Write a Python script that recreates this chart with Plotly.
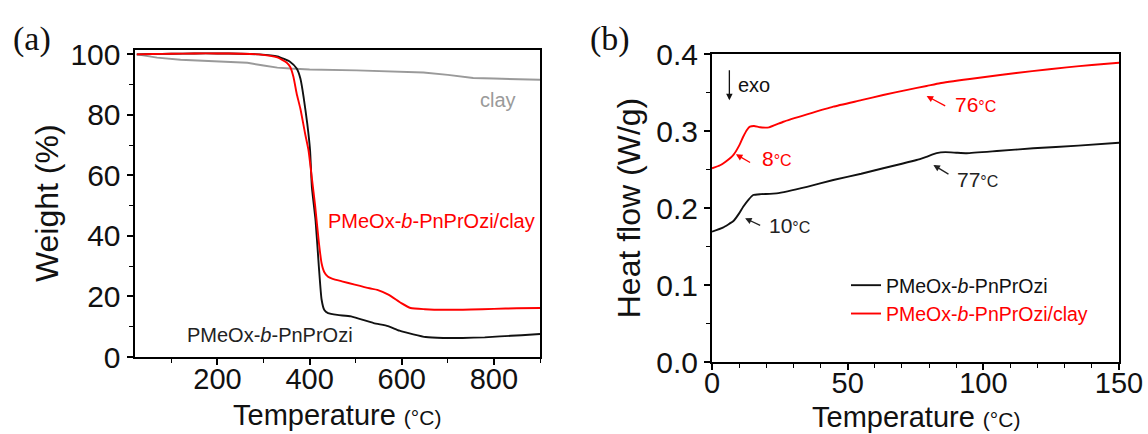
import plotly.graph_objects as go

# ---------------- data: (a) TGA ----------------
tga_temp_neat = [25, 60, 100, 150, 200, 250, 290, 330, 358, 372, 380, 387, 395, 401, 405, 413, 420, 426, 432, 440, 460, 490, 539, 570, 595, 625, 652, 690, 732, 780, 813, 860, 900]
tga_w_neat = [100, 100.1, 100.2, 100.3, 100.3, 100.2, 100.0, 99.3, 97.5, 95.3, 92, 85.9, 77, 68.3, 56, 45, 30, 19, 15.5, 14.5, 13.9, 13.4, 11.2, 10.2, 8.7, 7.5, 6.6, 6.3, 6.3, 6.5, 6.8, 7.2, 7.6]

tga_temp_clay = [25, 60, 100, 150, 200, 250, 290, 330, 350, 358, 365, 372, 380, 390, 397.6, 405, 412, 420, 426, 432, 440, 450, 470, 498, 530, 547, 571, 599, 619, 650, 692, 750, 800, 850, 900]
tga_w_clay = [100, 100.1, 100.2, 100.3, 100.3, 100.2, 100.0, 99.0, 97.3, 95.8, 92.5, 87, 82, 74, 68.3, 59, 50, 38, 31, 28, 26.5, 25.8, 25, 23.9, 22.7, 22.2, 20.6, 17.8, 16.2, 15.8, 15.6, 15.7, 15.9, 16.1, 16.2]

tga_temp_pure = [25, 69, 120, 213, 265, 300, 330, 358, 400, 502, 600, 647, 700, 740, 755, 800, 900]
tga_w_pure = [100, 98.9, 98.2, 97.7, 97.2, 96.3, 95.6, 95.3, 95.0, 94.7, 94.3, 94.0, 93.2, 92.5, 92.2, 92.0, 91.6]

# ---------------- data: (b) DSC ----------------
dsc_temp_neat = [0, 4, 7.9, 10, 11.5, 13.5, 15.2, 18, 23.8, 35, 44.7, 55, 63.1, 70, 75.4, 79, 82.8, 86, 90, 93.9, 105, 118.4, 135, 150]
dsc_hf_neat = [0.1692, 0.1745, 0.1831, 0.193, 0.2017, 0.211, 0.2169, 0.2180, 0.219, 0.2275, 0.2364, 0.2445, 0.2516, 0.2575, 0.2623, 0.2665, 0.2712, 0.2725, 0.2718, 0.2712, 0.2740, 0.2775, 0.281, 0.2848]

dsc_temp_clay = [0, 3, 5, 7.9, 10, 11.5, 13, 14, 15.5, 17.7, 21, 26.3, 35, 44.7, 55, 63.1, 72, 79.1, 84, 95, 106.2, 118, 130.7, 140, 150]
dsc_hf_clay = [0.2516, 0.2555, 0.260, 0.269, 0.281, 0.2926, 0.302, 0.3056, 0.3065, 0.3048, 0.3047, 0.312, 0.3215, 0.3316, 0.340, 0.3468, 0.3535, 0.3584, 0.362, 0.3675, 0.3727, 0.3778, 0.3827, 0.3858, 0.3887]

# glass-transition labels
tg_labels = ["8", "76", "10", "77"]
tg_colors = ["#ff0000", "#ff0000", "#222222", "#222222"]
tg_head = [(8.8, 0.2697), (79.1, 0.3455), (12.2, 0.1866), (81.6, 0.2558)]
tg_tail = [(14.6, 0.258), (86.5, 0.3316), (18.3, 0.1766), (87.7, 0.2429)]
tg_text = [(17.7, 0.2645), (88.9, 0.3338), (20.2, 0.1779), (89.6, 0.2364)]

NAME_NEAT = "PMeOx-<i>b</i>-PnPrOzi"
NAME_CLAY = "PMeOx-<i>b</i>-PnPrOzi/clay"

FONT = "Liberation Sans, Arial, sans-serif"
RED = "#ff0000"
BLACK = "#111111"
GREY = "#9a9a9a"
W = 1148
H = 434
LW = 1.9

fig = go.Figure()

# (a)
fig.add_trace(go.Scatter(x=tga_temp_pure, y=tga_w_pure, mode="lines", line=dict(color=GREY, width=LW),
                         xaxis="x", yaxis="y", showlegend=False, name="clay"))
fig.add_trace(go.Scatter(x=tga_temp_neat, y=tga_w_neat, mode="lines", line=dict(color=BLACK, width=LW, shape="spline", smoothing=0.5),
                         xaxis="x", yaxis="y", showlegend=False, name="neat"))
fig.add_trace(go.Scatter(x=tga_temp_clay, y=tga_w_clay, mode="lines", line=dict(color=RED, width=LW, shape="spline", smoothing=0.5),
                         xaxis="x", yaxis="y", showlegend=False, name="clay composite"))

# (b)
fig.add_trace(go.Scatter(x=dsc_temp_neat, y=dsc_hf_neat, mode="lines", line=dict(color=BLACK, width=LW, shape="spline", smoothing=0.4),
                         xaxis="x2", yaxis="y2", name=NAME_NEAT, showlegend=True))
fig.add_trace(go.Scatter(x=dsc_temp_clay, y=dsc_hf_clay, mode="lines", line=dict(color=RED, width=LW, shape="spline", smoothing=0.4),
                         xaxis="x2", yaxis="y2",
                         name="<span style='color:#ff0000'>" + NAME_CLAY + "</span>", showlegend=True))


def px_x(p):
    return p / W


def px_y(p):
    return 1 - p / H


axis_common = dict(
    automargin=False,
    showline=True, linecolor="black", linewidth=2, mirror=True,
    ticks="outside", ticklen=6, tickwidth=1.5, tickcolor="black",
    tickfont=dict(family=FONT, size=30, color="#111111"),
    showgrid=False, zeroline=False,
    minor=dict(ticks="outside", ticklen=4, tickwidth=1.2, tickcolor="black"),
)
xtick_font = dict(family=FONT, size=29, color="#111111")

title_font = dict(family=FONT, size=32, color="#111111")
xtitle_font = dict(family=FONT, size=29, color="#111111")
xtitle = "Temperature <span style='font-size:21px'>(°C)</span>"

X1 = [134.5, 540]
Y1 = [357, 49.5]
X2 = [712, 1119]
Y2 = [362, 54]

fig.update_layout(
    width=W, height=H,
    margin=dict(l=0, r=0, t=0, b=0),
    paper_bgcolor="white", plot_bgcolor="white",
    font=dict(family=FONT, color="#111111"),
    xaxis=dict(axis_common, domain=[px_x(X1[0]), px_x(X1[1])], range=[20, 900], tick0=0, dtick=200,
               tickfont=xtick_font, minor=dict(axis_common["minor"], dtick=100), ticklabelstandoff=-11, anchor="y"),
    yaxis=dict(axis_common, domain=[px_y(Y1[0]), px_y(Y1[1])], range=[0, 101.6], tick0=0, dtick=20,
               minor=dict(axis_common["minor"], dtick=10),
               title=dict(text="Weight (%)", font=title_font, standoff=2), anchor="x"),
    xaxis2=dict(axis_common, domain=[px_x(X2[0]), px_x(X2[1])], range=[0, 150], tick0=0, dtick=50,
                tickfont=xtick_font, minor=dict(axis_common["minor"], dtick=10), ticklabelstandoff=-12, anchor="y2"),
    yaxis2=dict(axis_common, domain=[px_y(Y2[0]), px_y(Y2[1])], range=[0, 0.4], tick0=0, dtick=0.1, tickformat=".1f",
                minor=dict(axis_common["minor"], dtick=0.05),
                title=dict(text="Heat flow (W/g)", font=title_font, standoff=6), anchor="x2"),
    legend=dict(x=px_x(846), y=px_y(266), xanchor="left", yanchor="top",
                font=dict(family=FONT, size=19.5, color="#111111"),
                bgcolor="rgba(0,0,0,0)", itemwidth=30, tracegroupgap=0),
    showlegend=True,
)

ann = []
# x-axis titles
ann.append(dict(text=xtitle, x=px_x((X1[0] + X1[1]) / 2), y=px_y(415), xref="paper", yref="paper",
                xanchor="center", yanchor="middle", showarrow=False, font=xtitle_font))
ann.append(dict(text=xtitle, x=px_x((X2[0] + X2[1]) / 2), y=px_y(417), xref="paper", yref="paper",
                xanchor="center", yanchor="middle", showarrow=False, font=xtitle_font))
# panel labels
ann.append(dict(text="(a)", x=px_x(11), y=px_y(39), xref="paper", yref="paper", xanchor="left", yanchor="middle",
                showarrow=False, font=dict(family="Liberation Serif, Times New Roman, serif", size=34, color="#111111")))
ann.append(dict(text="(b)", x=px_x(588), y=px_y(39), xref="paper", yref="paper", xanchor="left", yanchor="middle",
                showarrow=False, font=dict(family="Liberation Serif, Times New Roman, serif", size=34, color="#111111")))
# (a) curve labels
ann.append(dict(text="clay", x=809, y=85, xref="x", yref="y", showarrow=False,
                font=dict(family=FONT, size=20, color=GREY)))
ann.append(dict(text=NAME_CLAY, x=664, y=45, xref="x", yref="y", showarrow=False,
                font=dict(family=FONT, size=20, color=RED)))
ann.append(dict(text=NAME_NEAT, x=314, y=7.4, xref="x", yref="y", showarrow=False,
                font=dict(family=FONT, size=20, color="#222222")))
# (b) exo arrow
ann.append(dict(text="", x=6.4, y=0.340, ax=6.4, ay=0.381, xref="x2", yref="y2", axref="x2", ayref="y2",
                showarrow=True, arrowhead=2, arrowsize=1, arrowwidth=1.3, arrowcolor="#111111"))
ann.append(dict(text="exo", x=8.8, y=0.3597, xref="x2", yref="y2", xanchor="left", showarrow=False,
                font=dict(family=FONT, size=20, color="#111111")))
for lab, col, hd, tl, tx in zip(tg_labels, tg_colors, tg_head, tg_tail, tg_text):
    ann.append(dict(text="", x=hd[0], y=hd[1], ax=tl[0], ay=tl[1], xref="x2", yref="y2", axref="x2", ayref="y2",
                    showarrow=True, arrowhead=2, arrowsize=1, arrowwidth=1.3, arrowcolor=col))
    ann.append(dict(text=lab + "<span style='font-size:16px'>°C</span>", x=tx[0], y=tx[1], xref="x2", yref="y2",
                    xanchor="left", showarrow=False, font=dict(family=FONT, size=21, color=col)))

fig.update_layout(annotations=ann)

fig.write_html("out.html")
